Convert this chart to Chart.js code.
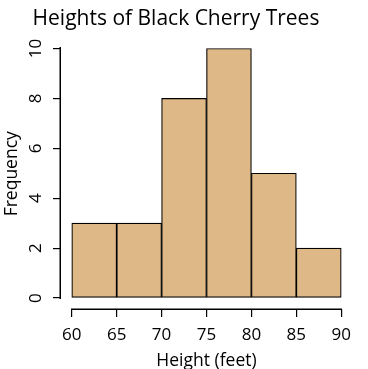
<!DOCTYPE html>
<html>
<head>
<meta charset="utf-8">
<script src="https://cdn.jsdelivr.net/npm/chart.js@4"></script>
<style>
  html, body { margin: 0; padding: 0; background: #fff; }
  #wrap { width: 368px; height: 369px; }
</style>
</head>
<body>
<div id="wrap"><canvas id="histChart" width="368" height="369"></canvas></div>
<script>
// Histogram data (bin edges and counts)
const binEdges = [60, 65, 70, 75, 80, 85, 90];
const counts = [3, 3, 8, 10, 5, 2];
const xTicks = [60, 65, 70, 75, 80, 85, 90];
const yTicks = [0, 2, 4, 6, 8, 10];

// Bar centres from the bin edges
const bars = counts.map((c, i) => ({ x: (binEdges[i] + binEdges[i + 1]) / 2, y: c }));

const FONT = "'Open Sans', 'Noto Sans', sans-serif";

// R style axes: line only between first and last tick
const rAxes = {
    id: 'rAxes',
    afterDraw(chart) {
        const ctx = chart.ctx;
        const area = chart.chartArea;
        const sx = chart.scales.x, sy = chart.scales.y;
        const x0 = Math.round(sx.getPixelForValue(xTicks[0]));
        const x1 = Math.round(sx.getPixelForValue(xTicks[xTicks.length - 1]));
        const y0 = Math.round(sy.getPixelForValue(yTicks[0]));
        const y1 = Math.round(sy.getPixelForValue(yTicks[yTicks.length - 1]));
        const by = Math.round(area.bottom);
        const lx = Math.round(area.left);
        ctx.save();
        ctx.fillStyle = '#000';
        ctx.fillRect(x0 - 1, by - 0.5, x1 - x0 + 2, 1.5);
        ctx.fillRect(lx - 1.5, y1 - 1, 1.5, y0 - y1 + 2);
        ctx.restore();
    }
};

new Chart(document.getElementById('histChart').getContext('2d'), {
    type: 'bar',
    data: {
        datasets: [{
            data: bars,
            backgroundColor: '#DEB887',
            borderColor: '#000',
            borderWidth: 1.2,
            borderSkipped: false,
            barPercentage: 1,
            categoryPercentage: 1
        }]
    },
    options: {
        responsive: false,
        animation: false,
        layout: { padding: { left: 0, right: 16, top: 0, bottom: 0 } },
        plugins: {
            legend: { display: false },
            tooltip: { enabled: false },
            title: {
                display: true,
                text: 'Heights of Black Cherry Trees',
                color: '#000',
                font: { family: FONT, size: 21, weight: 'normal' },
                padding: { top: 6.4, bottom: 6.9 }
            }
        },
        scales: {
            x: {
                type: 'linear',
                offset: false,
                min: 58.8,
                max: 91.2,
                afterBuildTicks: s => { s.ticks = xTicks.map(v => ({ value: v })); },
                afterFit: s => { s.height = 60; },
                grid: { display: true, offset: false, drawOnChartArea: false, drawTicks: true, tickLength: 8, color: '#000', lineWidth: 1.2 },
                border: { display: false },
                ticks: {
                    color: '#000',
                    padding: 8,
                    maxRotation: 0,
                    autoSkip: false,
                    font: { family: FONT, size: 17 }
                },
                title: {
                    display: true,
                    text: 'Height (feet)',
                    color: '#000',
                    font: { family: FONT, size: 17.5 },
                    padding: { top: 0, bottom: -3 }
                }
            },
            y: {
                min: -0.44,
                max: 10.4,
                afterBuildTicks: s => { s.ticks = yTicks.map(v => ({ value: v })); },
                afterFit: s => { s.width = 61; },
                grid: { display: true, drawOnChartArea: false, drawTicks: true, tickLength: 8, color: '#000', lineWidth: 1.2 },
                border: { display: false },
                ticks: {
                    color: '#000',
                    padding: 7.5,
                    minRotation: 90,
                    maxRotation: 90,
                    crossAlign: 'center',
                    autoSkip: false,
                    font: { family: FONT, size: 17 }
                },
                title: {
                    display: true,
                    text: 'Frequency',
                    color: '#000',
                    font: { family: FONT, size: 17.5 },
                    padding: { top: 1.8, bottom: 0 }
                }
            }
        }
    },
    plugins: [rAxes]
});
</script>
</body>
</html>
